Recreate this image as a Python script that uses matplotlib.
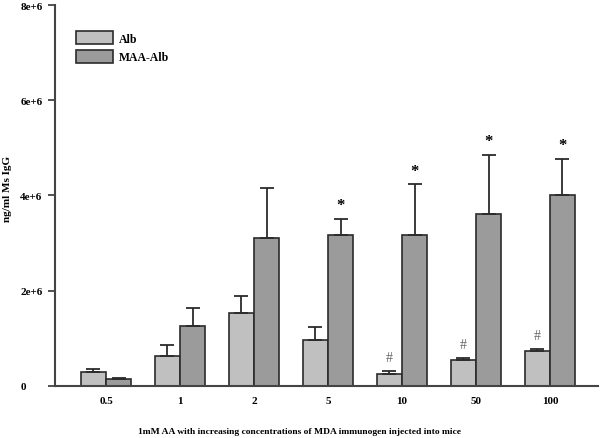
import numpy as np
import matplotlib
matplotlib.use('Agg')
import matplotlib.pyplot as plt

# data (ng/ml Ms IgG)
doses = ['0.5', '1', '2', '5', '10', '50', '100']
alb = [0.29e6, 0.63e6, 1.53e6, 0.97e6, 0.25e6, 0.55e6, 0.74e6]
alb_err = [0.07e6, 0.23e6, 0.36e6, 0.27e6, 0.07e6, 0.04e6, 0.04e6]
maa_alb = [0.15e6, 1.26e6, 3.11e6, 3.17e6, 3.17e6, 3.61e6, 4.01e6]
maa_alb_err = [0.02e6, 0.38e6, 1.05e6, 0.34e6, 1.07e6, 1.24e6, 0.76e6]
star_idx = [3, 4, 5, 6]   # '*' over MAA-Alb
hash_idx = [4, 5, 6]      # '#' over Alb

plt.rcParams['font.family'] = ['Liberation Serif', 'DejaVu Serif']
plt.rcParams['font.weight'] = 'bold'

fig = plt.figure(figsize=(6.01, 4.39), dpi=100)
ax = fig.add_axes([0.0915, 0.1185, 0.9035, 0.8678])

x = np.arange(len(doses))
w = 0.34
edge = '#2b2b2b'
err_kw = dict(ecolor=edge, elinewidth=1.3, capsize=5, capthick=1.3)

ax.bar(x - w / 2, alb, w, color='#c0c0c0', edgecolor=edge, linewidth=1.2,
       yerr=[np.zeros(len(alb)), alb_err], error_kw=err_kw, label='Alb', zorder=2)
ax.bar(x + w / 2, maa_alb, w, color='#9b9b9b', edgecolor=edge, linewidth=1.2,
       yerr=[np.zeros(len(maa_alb)), maa_alb_err], error_kw=err_kw, label='MAA-Alb', zorder=2)

for i in star_idx:
    ax.annotate('*', (x[i] + w / 2, maa_alb[i] + maa_alb_err[i]), xytext=(0, 4),
                textcoords='offset points', ha='center', va='bottom', fontsize=12, fontweight='bold')
for i in hash_idx:
    ax.annotate('#', (x[i] - w / 2, alb[i] + alb_err[i]), xytext=(0, 5),
                textcoords='offset points', ha='center', va='bottom', fontsize=10,
                fontweight='normal', color='#666666')

ax.set_xlim(-0.69, 6.65)
ax.set_ylim(0, 8e6)
ax.set_yticks([0, 2e6, 4e6, 6e6, 8e6])
ax.set_yticklabels(['0', '2e+6', '4e+6', '6e+6', '8e+6'], ha='left')
ax.set_xticks(x)
ax.set_xticklabels(doses)
ax.tick_params(axis='x', length=0, pad=7, labelsize=8)
# labels are left-aligned in the original
ax.tick_params(axis='y', direction='out', length=5, width=1.3, color='#444444', pad=20, labelsize=8)

for side in ['top', 'right']:
    ax.spines[side].set_visible(False)
for side in ['left', 'bottom']:
    ax.spines[side].set_linewidth(1.5)
    ax.spines[side].set_color('#444444')

ax.set_ylabel('ng/ml Ms IgG', fontsize=8, fontweight='bold')
ax.yaxis.set_label_coords(-0.079, 0.52)
ax.set_xlabel('1mM AA with increasing concentrations of MDA immunogen injected into mice',
              fontsize=6.8, fontweight='bold')
ax.xaxis.set_label_coords(0.451, -0.107)

leg = ax.legend(loc='upper left', bbox_to_anchor=(0.020, 0.959), frameon=False, fontsize=8.5,
                handlelength=3.1, handleheight=1.3, handletextpad=0.5, labelspacing=0.45)

fig.savefig('out.png', dpi=100)
